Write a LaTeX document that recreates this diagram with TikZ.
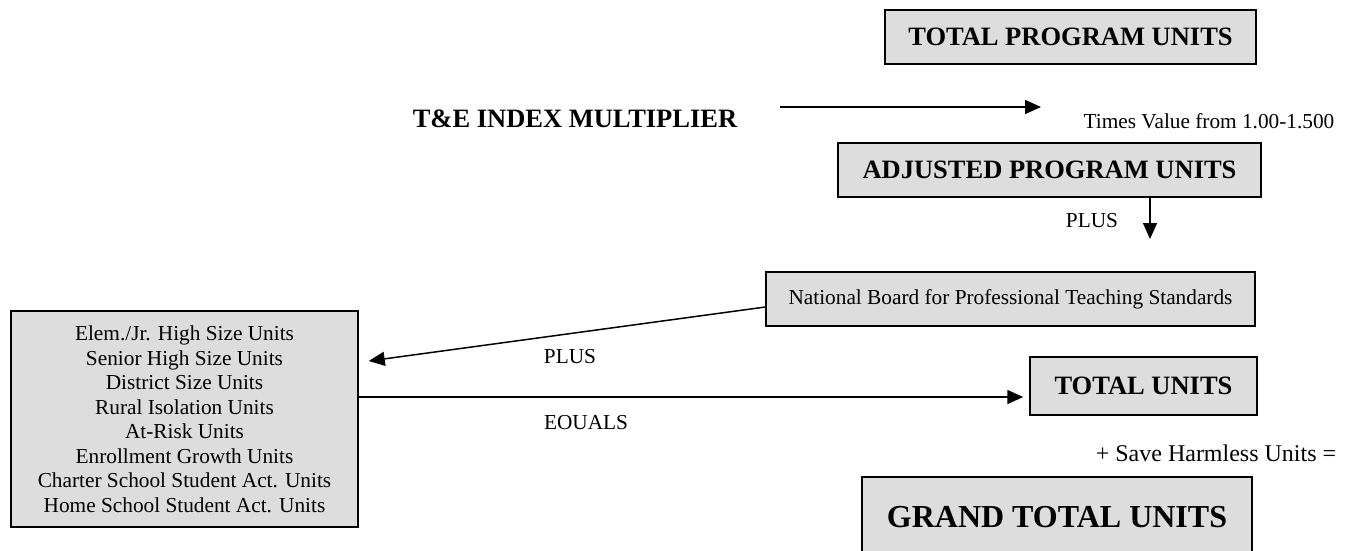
\documentclass[tikz,border=0pt]{standalone}
\usepackage{fontspec}
\setmainfont{Liberation Serif}
\usetikzlibrary{arrows.meta}
\definecolor{boxgray}{RGB}{221,221,221}
\tikzset{
  unitbox/.style={draw, fill=boxgray, line width=1.5pt, inner sep=0pt, align=center},
  head/.style={font=\fontsize{26.5}{30}\selectfont\bfseries},
  plain/.style={font=\fontsize{21.3}{24.5}\selectfont},
  flow/.style={-{Triangle[length=16pt,width=14pt]}, line width=1.5pt},
}
\begin{document}
\begin{tikzpicture}[x=1pt,y=-1pt]
      \useasboundingbox (0,0) rectangle (1348,550);
      \node[unitbox,head,minimum width=371pt,minimum height=54pt] (tpu) at (1070.5,37) {TOTAL PROGRAM UNITS};
      \node[head,anchor=base] (te) at (575,127) {T\&E INDEX MULTIPLIER};
      \node[plain,anchor=base] (times) at (1209,128) {Times Value from 1.00-1.500};
      \node[unitbox,head,minimum width=423pt,minimum height=54pt] (apu) at (1049.5,170) {ADJUSTED PROGRAM UNITS};
      \node[plain,anchor=base] (plusa) at (1092,227) {PLUS};
      \node[unitbox,plain,minimum width=489pt,minimum height=54pt] (nb) at (1010.5,299) {National Board for Professional Teaching Standards};
      \node[unitbox,plain,minimum width=347pt,minimum height=216pt] (units) at (184.5,419)
        {Elem./Jr. High Size Units\\Senior High Size Units\\District Size Units\\Rural Isolation Units\\
         At-Risk Units\\Enrollment Growth Units\\Charter School Student Act. Units\\Home School Student Act. Units};
      \node[plain,anchor=base] (plusb) at (570,363) {PLUS};
      \node[plain,anchor=base] (equals) at (586,429) {EOUALS};
      \node[unitbox,head,minimum width=227pt,minimum height=58pt] (total) at (1143.5,386) {TOTAL UNITS};
      \node[font=\fontsize{24}{28}\selectfont,anchor=base] (save) at (1216,461) {+ Save Harmless Units =};
      \node[unitbox,font=\fontsize{32}{36}\selectfont\bfseries,minimum width=390pt,minimum height=80pt] (grand) at (1057,517) {GRAND TOTAL UNITS};
      \coordinate (mulstart) at (780,107);
      \coordinate (mulend) at (1041,107);
      \coordinate (plusend) at (1150,239);
      \coordinate (eqend) at ([xshift=-6pt,yshift=-11pt]total.west);
      \begin{scope}[flow]
        \draw (mulstart) -- (mulend);
        \draw (apu.south -| plusend) -- (plusend);
        \draw ([yshift=-8pt]nb.west) -- ([xshift=10pt,yshift=58pt]units.east);
        \draw (units.east |- eqend) -- (eqend);
      \end{scope}
    \end{tikzpicture}
\end{document}
